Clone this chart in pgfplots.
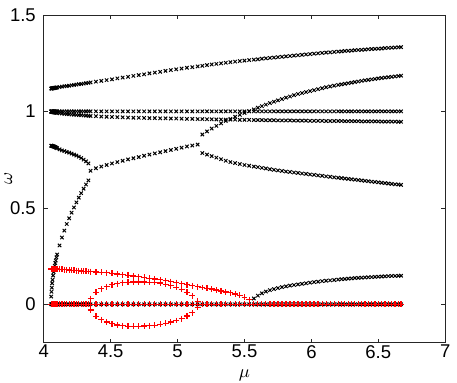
\documentclass[border=0pt]{standalone}
\usepackage{fontspec}
\setmainfont{Liberation Sans}
\usepackage{pgfplots}
\usepackage{pgfplotstable}
\pgfplotsset{compat=1.18}

% branches below the first collision (mu < 4.345)
\pgfplotstableread{
mu    top   one  nine  desc  steep red   zero
4.056 1.118 1 0.998 0.822 0.040 0.183 0
4.058 1.118 1 0.998 0.822 0.065 0.183 0
4.060 1.119 1 0.997 0.821 0.086 0.183 0
4.063 1.119 1 0.997 0.821 0.109 0.183 0
4.066 1.120 1 0.996 0.820 0.127 0.183 0
4.070 1.120 1 0.996 0.819 0.149 0.183 0
4.074 1.121 1 0.995 0.818 0.167 0.183 0
4.078 1.121 1 0.995 0.817 0.184 0.183 0
4.082 1.122 1 0.994 0.816 0.200 0.183 0
4.086 1.122 1 0.994 0.815 0.214 0.183 0
4.090 1.123 1 0.993 0.813 0.227 0.183 0
4.095 1.123 1 0.993 0.811 0.243 0.183 0
4.100 1.124 1 0.992 0.809 0.258 0.183 0
4.118 1.126 1 0.990 0.803 0.305 0.182 0
4.136 1.128 1 0.989 0.798 0.346 0.181 0
4.154 1.130 1 0.987 0.794 0.382 0.180 0
4.172 1.131 1 0.986 0.790 0.416 0.179 0
4.190 1.133 1 0.985 0.786 0.446 0.178 0
4.208 1.135 1 0.984 0.781 0.475 0.177 0
4.226 1.137 1 0.983 0.776 0.502 0.176 0
4.244 1.139 1 0.982 0.771 0.528 0.175 0
4.262 1.141 1 0.981 0.765 0.553 0.174 0
4.280 1.142 1 0.980 0.758 0.576 0.173 0
4.298 1.144 1 0.979 0.750 0.599 0.172 0
4.316 1.146 1 0.978 0.741 0.621 0.171 0
4.334 1.148 1 0.977 0.730 0.642 0.170 0
}\tabL

% complex pair between the two collisions
\pgfplotstableread{
mu    top   one  nine  merg  red   lu    ll     zero
4.350 1.150 1 0.976 0.692 0.169 0.030 -0.030 0
4.390 1.154 1 0.975 0.705 0.167 0.062 -0.062 0
4.430 1.158 1 0.973 0.714 0.165 0.080 -0.080 0
4.470 1.162 1 0.972 0.722 0.163 0.092 -0.092 0
4.510 1.166 1 0.971 0.730 0.160 0.101 -0.101 0
4.550 1.171 1 0.970 0.737 0.157 0.107 -0.107 0
4.590 1.175 1 0.969 0.744 0.154 0.111 -0.111 0
4.630 1.179 1 0.968 0.751 0.151 0.114 -0.114 0
4.670 1.184 1 0.967 0.757 0.147 0.116 -0.114 0
4.710 1.188 1 0.967 0.763 0.143 0.116 -0.114 0
4.750 1.192 1 0.966 0.770 0.139 0.116 -0.113 0
4.790 1.197 1 0.965 0.776 0.135 0.115 -0.111 0
4.830 1.201 1 0.965 0.782 0.131 0.113 -0.108 0
4.870 1.205 1 0.964 0.788 0.127 0.110 -0.104 0
4.910 1.210 1 0.964 0.794 0.122 0.104 -0.099 0
4.950 1.214 1 0.963 0.800 0.117 0.097 -0.092 0
4.990 1.218 1 0.963 0.806 0.112 0.088 -0.084 0
5.030 1.222 1 0.962 0.812 0.107 0.077 -0.074 0
5.070 1.226 1 0.961 0.818 0.102 0.063 -0.061 0
5.110 1.229 1 0.961 0.823 0.097 0.045 -0.043 0
5.150 1.233 1 0.960 0.828 0.092 0.015 -0.015 0
}\tabC

% after the second collision
\pgfplotstableread{
mu    top   one  nine  up    low   rise  red   zero
5.185 1.236 1 0.960 0.880 0.784 nan   0.087 0
5.220 1.240 1 0.959 0.896 0.776 nan   0.083 0
5.255 1.243 1 0.959 0.911 0.768 nan   0.079 0
5.290 1.246 1 0.958 0.925 0.760 nan   0.074 0
5.325 1.249 1 0.958 0.938 0.752 nan   0.069 0
5.360 1.252 1 0.957 0.950 0.744 nan   0.064 0
5.395 1.255 1 0.957 0.961 0.737 nan   0.059 0
5.430 1.258 1 0.957 0.972 0.732 nan   0.053 0
5.465 1.261 1 0.956 0.982 0.727 nan   0.046 0
5.500 1.263 1 0.956 0.992 0.722 nan   0.037 0
5.535 1.266 1 0.956 1.001 0.718 nan   0.024 0
5.570 1.268 1 0.955 1.010 0.714 0.030 nan   0
5.600 1.270 1 0.955 1.019 0.711 0.045 nan   0
5.630 1.273 1 0.955 1.027 0.707 0.057 nan   0
5.660 1.275 1 0.954 1.035 0.704 0.066 nan   0
5.690 1.277 1 0.954 1.043 0.700 0.073 nan   0
5.720 1.279 1 0.954 1.050 0.697 0.079 nan   0
5.750 1.281 1 0.953 1.057 0.694 0.084 nan   0
5.780 1.283 1 0.953 1.064 0.691 0.089 nan   0
5.810 1.285 1 0.953 1.071 0.688 0.093 nan   0
5.840 1.287 1 0.953 1.077 0.686 0.097 nan   0
5.870 1.289 1 0.952 1.084 0.683 0.100 nan   0
5.900 1.291 1 0.952 1.090 0.681 0.103 nan   0
5.930 1.293 1 0.952 1.095 0.678 0.106 nan   0
5.960 1.295 1 0.952 1.100 0.676 0.109 nan   0
5.990 1.297 1 0.951 1.105 0.673 0.112 nan   0
6.020 1.299 1 0.951 1.110 0.671 0.115 nan   0
6.050 1.301 1 0.951 1.115 0.668 0.117 nan   0
6.080 1.303 1 0.951 1.120 0.666 0.120 nan   0
6.110 1.305 1 0.950 1.125 0.663 0.122 nan   0
6.140 1.306 1 0.950 1.129 0.661 0.124 nan   0
6.170 1.308 1 0.950 1.133 0.658 0.126 nan   0
6.200 1.310 1 0.950 1.137 0.656 0.128 nan   0
6.225 1.311 1 0.950 1.140 0.654 0.130 nan   0
6.250 1.313 1 0.949 1.143 0.652 0.131 nan   0
6.275 1.314 1 0.949 1.146 0.650 0.133 nan   0
6.300 1.315 1 0.949 1.149 0.648 0.134 nan   0
6.325 1.317 1 0.949 1.152 0.646 0.136 nan   0
6.350 1.318 1 0.949 1.155 0.644 0.137 nan   0
6.375 1.319 1 0.948 1.158 0.642 0.138 nan   0
6.400 1.320 1 0.948 1.161 0.640 0.139 nan   0
6.425 1.322 1 0.948 1.163 0.638 0.140 nan   0
6.450 1.323 1 0.948 1.166 0.636 0.141 nan   0
6.475 1.324 1 0.948 1.168 0.634 0.142 nan   0
6.500 1.325 1 0.948 1.171 0.632 0.143 nan   0
6.525 1.326 1 0.947 1.173 0.630 0.144 nan   0
6.550 1.328 1 0.947 1.175 0.628 0.145 nan   0
6.575 1.329 1 0.947 1.177 0.626 0.146 nan   0
6.600 1.330 1 0.947 1.179 0.624 0.147 nan   0
6.625 1.331 1 0.947 1.181 0.622 0.147 nan   0
6.650 1.332 1 0.946 1.183 0.621 0.148 nan   0
6.670 1.333 1 0.946 1.185 0.619 0.148 nan   0
}\tabR

\begin{document}
\begin{tikzpicture}[font=\fontsize{9.3}{11}\selectfont]

\definecolor{axgray}{gray}{0.15}

\begin{axis}[
  width=202pt, height=165pt, scale only axis,
  xmin=4, xmax=7, ymin=-0.2, ymax=1.5,
  xtick={4,4.5,...,7}, ytick={0,0.5,1,1.5},
  xticklabels={4,4.5,5,5.5,6,6.5,7},
  yticklabels={0,0.5,1,1.5},
  tick align=inside, major tick length=2pt,
  axis line style={axgray, line width=0.4pt},
  tick style={axgray, line width=0.3pt},
  xticklabel style={inner ysep=1pt},
  yticklabel style={xshift=-0.5pt},
  xlabel={$\mu$}, ylabel={$\omega$},
  xlabel style={at={(axis description cs:0.5,-0.1)}, anchor=center, inner sep=0pt},
  ylabel style={at={(axis description cs:-0.088,0.5)}, anchor=center, inner sep=0pt},
  clip=false,
  bk/.style={only marks, mark=x, mark size=1.2pt, black, mark options={line width=0.5pt}},
  rd/.style={only marks, mark=+, mark size=1.5pt, red, mark options={line width=0.6pt}},
]

% black: real parts
\addplot[bk] table[x=mu, y=top]   {\tabL};
\addplot[bk] table[x=mu, y=one]   {\tabL};
\addplot[bk] table[x=mu, y=nine]  {\tabL};
\addplot[bk] table[x=mu, y=desc]  {\tabL};
\addplot[bk] table[x=mu, y=steep] {\tabL};
\addplot[bk] table[x=mu, y=zero]  {\tabL};

\addplot[bk] table[x=mu, y=top]  {\tabC};
\addplot[bk] table[x=mu, y=one]  {\tabC};
\addplot[bk] table[x=mu, y=nine] {\tabC};
\addplot[bk] table[x=mu, y=merg] {\tabC};
\addplot[bk] table[x=mu, y=zero] {\tabC};

\addplot[bk] table[x=mu, y=top]  {\tabR};
\addplot[bk] table[x=mu, y=one]  {\tabR};
\addplot[bk] table[x=mu, y=nine] {\tabR};
\addplot[bk] table[x=mu, y=up]   {\tabR};
\addplot[bk] table[x=mu, y=low]  {\tabR};
\addplot[bk] table[x=mu, y=rise] {\tabR};
\addplot[bk] table[x=mu, y=zero] {\tabR};

% red: imaginary parts
\addplot[rd] table[x=mu, y=red]  {\tabL};
\addplot[rd] table[x=mu, y=zero] {\tabL};
\addplot[rd] table[x=mu, y=red]  {\tabC};
\addplot[rd] table[x=mu, y=lu]   {\tabC};
\addplot[rd] table[x=mu, y=ll]   {\tabC};
\addplot[rd] table[x=mu, y=zero] {\tabC};
\addplot[rd] table[x=mu, y=red]  {\tabR};
\addplot[rd] table[x=mu, y=zero] {\tabR};

% page box with the reference's margins
\path ([xshift=-22pt, yshift=-20pt]rel axis cs:0,0) rectangle ([xshift=4.5pt, yshift=7.5pt]rel axis cs:1,1);

\end{axis}
\end{tikzpicture}
\end{document}
